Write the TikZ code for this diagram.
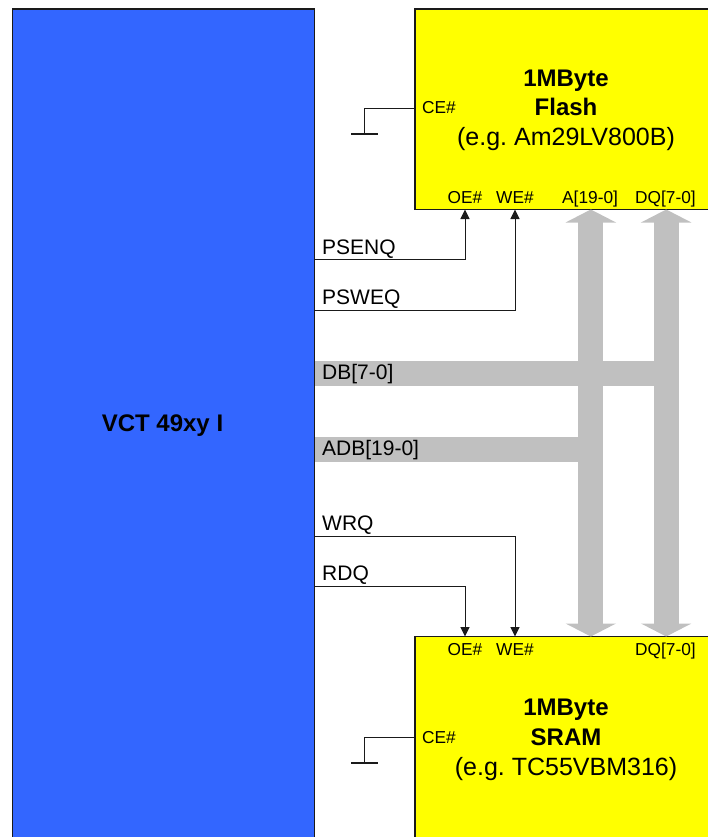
\documentclass[tikz,border=0pt]{standalone}
\usepackage{fontspec}
\setmainfont{Liberation Sans}
\usetikzlibrary{arrows.meta, positioning}
\definecolor{cpuFill}{HTML}{3366ff}
\definecolor{memFill}{HTML}{ffff00}
\definecolor{busGrey}{HTML}{c0c0c0}
\definecolor{wire}{HTML}{1a1a1a}
\def\memX{415}
\def\flashBot{209.5}
\def\sramTop{636.5}
\def\oeX{465}
\def\weX{515}

\begin{document}
\begin{tikzpicture}[
    x=1pt, y=-1pt,
    cpu/.style={draw=wire, line width=1.2pt, fill=cpuFill, anchor=north west, inner sep=0pt, outer sep=0pt},
    mem/.style={draw=wire, line width=1.2pt, fill=memFill, anchor=north west, inner sep=0pt, outer sep=0pt},
    sig/.style={draw=wire, line width=1pt},
    sigArrow/.style={sig, -{Triangle[length=9.5pt,width=9pt]}},
    bus/.style={draw=busGrey, line width=25pt},
    busArrow/.style={bus, {Triangle[length=13pt,width=50pt]}-{Triangle[length=13pt,width=50pt]}},
    wireLabel/.style={anchor=base west, inner sep=0pt, font=\fontsize{21}{21}\selectfont},
    pinLabel/.style={anchor=base west, inner sep=0pt, font=\fontsize{17.3}{17.3}\selectfont},
    title/.style={anchor=base, inner sep=0pt, font=\fontsize{24}{24}\selectfont\bfseries},
    subtitle/.style={anchor=base, inner sep=0pt, font=\fontsize{25}{25}\selectfont},
    ]

\useasboundingbox (0,0) rectangle (708,837);
\clip (0,0) rectangle (708,837);

% ====================================================================
% Blocks
% ====================================================================
\node[cpu, minimum width=302pt, minimum height=840pt] (vct) at (12.5,9) {};
\node[mem, minimum width=310pt, minimum height=200.5pt] (flash) at (\memX,9) {};
\node[mem, minimum width=310pt, minimum height=220pt] (sram) at (\memX,\sramTop) {};

\node[title] (vctName) at (162.5,431) {VCT 49xy I};

% Block titles
\node[title] (flashSize) at (566,87) {1MByte};
\node[title] (flashType) at (566,116) {Flash};
\node[subtitle] (flashPart) at (566,146) {(e.g.\ Am29LV800B)};
\node[title] (sramSize) at (566,715) {1MByte};
\node[title] (sramType) at (566,745) {SRAM};
\node[subtitle] (sramPart) at (566,775) {(e.g.\ TC55VBM316)};

% ====================================================================
% Buses (drawn first, then labels on top)
% ====================================================================
\coordinate (dbStart) at (315,373);
\coordinate (adbStart) at (315,449);
\coordinate (busAtop) at (590.8,\flashBot);
\coordinate (busAbot) at (590.8,\sramTop);
\coordinate (busDtop) at (666.2,\flashBot);
\coordinate (busDbot) at (666.2,\sramTop);

\draw[bus] (dbStart) -- (666.2,373);
\draw[bus] (adbStart) -- (590.8,449);
\draw[busArrow] (busAtop) -- (busAbot);
\draw[busArrow] (busDtop) -- (busDbot);

% ====================================================================
% Control signals
% ====================================================================
\foreach \name/\y in {psenq/259.5, psweq/310, wrq/536, rdq/586.5}{
    \coordinate (\name) at (314.5,\y);
}
\coordinate (flashOE) at (\oeX,\flashBot);
\coordinate (flashWE) at (\weX,\flashBot);
\coordinate (sramOE) at (\oeX,\sramTop);
\coordinate (sramWE) at (\weX,\sramTop);

\draw[sigArrow] (psenq) -| (flashOE);
\draw[sigArrow] (psweq) -| (flashWE);
\draw[sigArrow] (wrq) -| (sramWE);
\draw[sigArrow] (rdq) -| (sramOE);

% Chip enable tied to ground
\foreach \chip/\y in {flash/108.7, sram/737.7}{
    \coordinate (\chip CE) at (\memX,\y);
    \coordinate (\chip Gnd) at (364,\y+25);
    \draw[sig] (\chip CE) -| (\chip Gnd);
    \draw[draw=wire, line width=2pt] (351,\y+25) -- (378,\y+25);
}

% ====================================================================
% Labels
% ====================================================================
\node[wireLabel] (psenqText) at (322,254.5) {PSENQ};
\node[wireLabel] (psweqText) at (322,304.5) {PSWEQ};
\node[wireLabel] (dbText) at (322,379) {DB[7-0]};
\node[wireLabel] (adbText) at (322,455) {ADB[19-0]};
\node[wireLabel] (wrqText) at (322,530) {WRQ};
\node[wireLabel] (rdqText) at (322,580) {RDQ};

\node[pinLabel] (flashCEtext) at (422,114) {CE\#};
\node[pinLabel] (flashOEtext) at (447.5,203) {OE\#};
\node[pinLabel] (flashWEtext) at (496,203) {WE\#};
\node[pinLabel] (flashAtext) at (562,203) {A[19-0]};
\node[pinLabel] (flashDQtext) at (635,203) {DQ[7-0]};

\node[pinLabel] (sramCEtext) at (422,743) {CE\#};
\node[pinLabel] (sramOEtext) at (447.5,655) {OE\#};
\node[pinLabel] (sramWEtext) at (496,655) {WE\#};
\node[pinLabel] (sramDQtext) at (635,655) {DQ[7-0]};

\end{tikzpicture}
\end{document}
